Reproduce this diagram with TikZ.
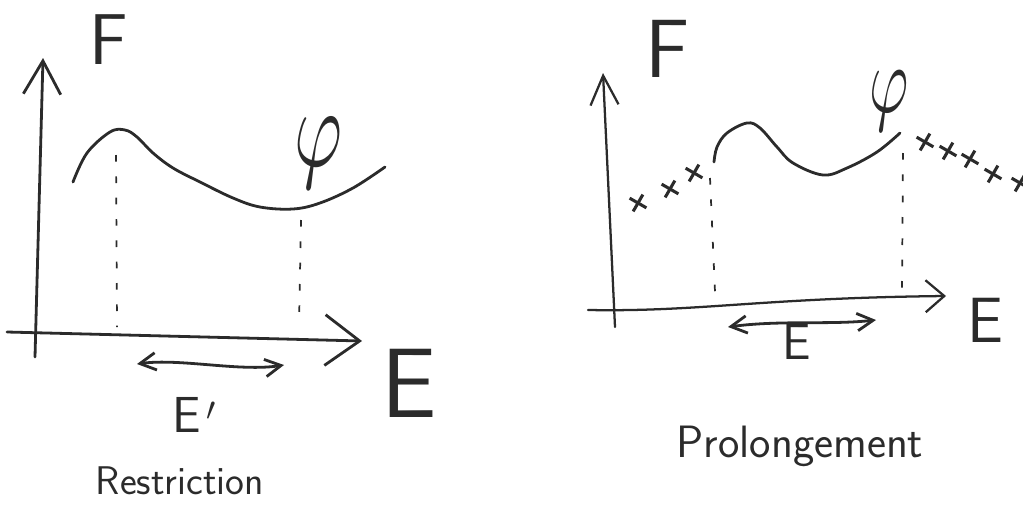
\documentclass[tikz,border=0pt]{standalone}
\usetikzlibrary{arrows.meta,shapes.misc}
\definecolor{ink}{HTML}{2B2B2B}
\tikzset{
  ink/.style={draw=ink, line width=2.1pt, line cap=round, line join=round},
  axisL/.style={ink, -{Straight Barb[length=25pt,width=28pt,line width=2.1pt]}},
  axisLx/.style={ink, -{Straight Barb[length=26pt,width=38pt,line width=2.1pt]}},
  axisR/.style={ink, line width=1.7pt, -{Straight Barb[length=22pt,width=21pt,line width=1.7pt]}},
  axisRx/.style={ink, line width=1.7pt, -{Straight Barb[length=14pt,width=24pt,line width=1.7pt]}},
  spanarrow/.style={ink, {Straight Barb[length=12pt,width=13pt,line width=2.1pt]}-{Straight Barb[length=12pt,width=13pt,line width=2.1pt]}},
  guide/.style={draw=ink, line width=1.3pt, dash pattern=on 5pt off 11pt},
  ext/.style={cross out, draw=ink, line width=2.3pt, minimum size=8pt, inner sep=0pt, rotate=15},
  lbl/.style={text=ink, inner sep=0pt, font=\sffamily},
}
\begin{document}
\begin{tikzpicture}[x=0.75pt,y=-0.75pt]
\useasboundingbox (0,0) rectangle (1023,507);
% ---------- left panel: restriction ----------
\coordinate (lyO) at (35,357);
\coordinate (lyT) at (43,58);
\coordinate (lxO) at (7,332);
\coordinate (lxT) at (362,341);
\draw[axisL] (lyO) -- (lyT);
\draw[axisLx] (lxO) -- (lxT);
\node[lbl, font=\sffamily\fontsize{54}{60}\selectfont] (Fl) at (109,40) {F};
\draw[ink] plot[smooth, tension=0.6] coordinates {(73,182) (87,153) (110,132) (125,130) (137,137) (153,153) (173,168) (200,182) (233,198) (260,207) (293,209) (320,203) (353,188) (385,167)};
\node[lbl, xscale=5.5, yscale=8.5] (phil) at (318,153) {$\varphi$};
\coordinate (gl1t) at (116,155);
\coordinate (gl1b) at (117,327);
\coordinate (gl2t) at (301,220);
\coordinate (gl2b) at (299,326);
\draw[guide] (gl1t) -- (gl1b);
\draw[guide] (gl2t) -- (gl2b);
\coordinate (rl1) at (137,364);
\coordinate (rl2) at (284,365);
\draw[spanarrow] (rl1) .. controls (180,358) and (240,372) .. (rl2);
\node[lbl, font=\sffamily\fontsize{38}{44}\selectfont] (Ep) at (194,415) {E$\,'$};
\node[lbl, font=\sffamily\fontsize{74}{80}\selectfont] (El) at (409,383) {E};
\node[lbl, font=\sffamily\fontsize{30}{36}\selectfont, anchor=base] (rest) at (180,494) {Restriction};
% ---------- right panel: prolongement ----------
\coordinate (ryO) at (615,327);
\coordinate (ryT) at (603,73);
\coordinate (rxO) at (588,310);
\coordinate (rxT) at (946,296);
\draw[axisR] (ryO) -- (ryT);
\draw[axisRx] (rxO) .. controls (700,312) and (760,298) .. (rxT);
\node[lbl, font=\sffamily\fontsize{62}{68}\selectfont] (Fr) at (668,49) {F};
\draw[ink] plot[smooth, tension=0.6] coordinates {(714,162) (717,147) (727,133) (747,123) (760,128) (777,147) (793,163) (823,175) (847,168) (877,152) (900,133)};
\node[lbl, xscale=4.5, yscale=7.2] (phir) at (889,101) {$\varphi$};
\node[ext] (c1) at (638,203) {};
\node[ext] (c2) at (670,189) {};
\node[ext] (c3) at (694,173) {};
\node[ext] (c4) at (925,142) {};
\node[ext] (c5) at (948,151) {};
\node[ext] (c6) at (970,159) {};
\node[ext] (c7) at (993,174) {};
\node[ext] (c8) at (1020,183) {};
\coordinate (gr1t) at (710,178);
\coordinate (gr1b) at (715,292);
\coordinate (gr2t) at (903,153);
\coordinate (gr2b) at (902,290);
\draw[guide] (gr1t) -- (gr1b);
\draw[guide] (gr2t) -- (gr2b);
\coordinate (rr1) at (728,327);
\coordinate (rr2) at (876,320);
\draw[spanarrow] (rr1) .. controls (780,320) and (830,325) .. (rr2);
\node[lbl, font=\sffamily\fontsize{38}{44}\selectfont] (Er) at (797,342) {E};
\node[lbl, font=\sffamily\fontsize{48}{54}\selectfont] (Ebr) at (985,320) {E};
\node[lbl, font=\sffamily\fontsize{34}{40}\selectfont, anchor=base] (prol) at (800,457) {Prolongement};
\end{tikzpicture}
\end{document}
